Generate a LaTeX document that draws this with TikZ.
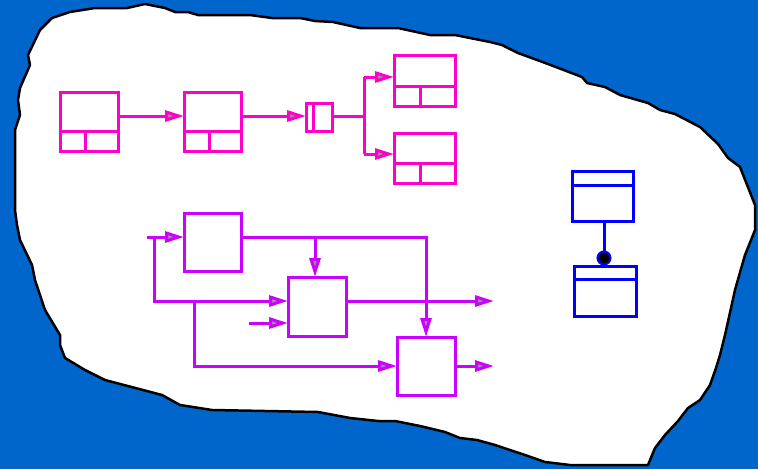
\documentclass[tikz,border=0pt]{standalone}
\usetikzlibrary{arrows.meta,calc}
\definecolor{bgblue}{RGB}{0,102,204}
\definecolor{pinkc}{RGB}{255,0,204}
\definecolor{purpc}{RGB}{204,0,255}
\definecolor{bluec}{RGB}{0,0,255}
\definecolor{tipgray}{RGB}{150,150,150}
\begin{document}
\begin{tikzpicture}[x=1pt,y=-1pt,
  boxp/.style={draw=pinkc,line width=3pt,inner sep=0pt,outer sep=0pt},
  boxq/.style={draw=purpc,line width=3pt,inner sep=0pt,outer sep=0pt},
  boxb/.style={draw=bluec,line width=3pt,inner sep=0pt,outer sep=0pt},
  pline/.style={draw=pinkc,line width=3pt},
  qline/.style={draw=purpc,line width=3pt},
  bline/.style={draw=bluec,line width=3pt},
  tipa/.style={-{Triangle[length=19pt,width=11pt,fill=tipgray]}},
  dotnode/.style={circle,draw=bluec,fill=black,line width=2pt,minimum size=13pt,inner sep=0pt,outer sep=0pt}]
\useasboundingbox (0,0) rectangle (758,469);
\fill[bgblue] (0,0) rectangle (758,469);
% blob
\draw[black,line width=2.5pt,fill=white,line join=round]
 (52,18)--(70,12)--(95,8)--(127,8)--(145,4)--(165,8)--(175,12)--(188,12)--(198,15)--(250,15)--(272,18)--(300,18)--(315,21)--(333,22)--(360,28)--(398,28)--(430,35)--(455,35)--(490,42)--(502,45)--(518,53)--(548,64)--(582,77)--(587,83)--(605,87)--(620,95)--(648,103)--(660,110)--(675,114)--(700,127)--(718,144)--(728,158)--(740,167)--(755,205)--(755,230)--(745,255)--(735,290)--(725,335)--(720,355)--(716,368)--(710,385)--(700,400)--(688,408)--(678,421)--(665,435)--(655,448)--(648,465)--(570,465)--(545,462)--(525,455)--(495,445)--(477,440)--(460,438)--(445,432)--(420,426)--(395,421)--(378,421)--(350,418)--(318,412)--(212,410)--(180,405)--(162,395)--(105,380)--(85,370)--(65,358)--(60,345)--(60,335)--(45,310)--(40,295)--(35,280)--(32,265)--(20,240)--(17,225)--(15,210)--(15,130)--(20,115)--(18,100)--(20,88)--(30,65)--(28,55)--(40,30)--cycle;
% pink row
\node[boxp,minimum width=58pt,minimum height=59pt] (A) at (89,121.5) {};
\node[boxp,minimum width=57pt,minimum height=59pt] (B) at (212.5,121.5) {};
\node[boxp,minimum width=26pt,minimum height=28pt] (C) at (319,117) {};
\node[boxp,minimum width=61pt,minimum height=51pt] (D) at (424.5,80.5) {};
\node[boxp,minimum width=61pt,minimum height=50pt] (E) at (424.5,158) {};
\foreach \n/\v in {A/25pt,B/25pt,D/26pt,E/26pt}{
  \draw[pline] ($(\n.south west)+(0,20pt)$) -- ($(\n.south east)+(0,20pt)$);
  \draw[pline] ($(\n.south west)+(\v,0)$) -- ($(\n.south west)+(\v,20pt)$);
}
\draw[pline] ($(C.north west)+(7pt,0)$) -- ($(C.south west)+(7pt,0)$);
\coordinate (row) at (0,116);
\draw[pline,tipa] (A.east |- row) -- (B.west |- row);
\draw[pline,tipa] (B.east |- row) -- (C.west |- row);
\coordinate (fork) at (364,116);
\coordinate (fD) at (364,77);
\coordinate (fE) at (364,154);
\draw[pline] (C.east |- row) -- (fork);
\draw[pline] (fD) -- (fE);
\draw[pline,tipa] (fD) -- (D.west |- fD);
\draw[pline,tipa] (fE) -- (E.west |- fE);
% purple
\node[boxq,minimum width=57pt,minimum height=58pt] (F) at (212.5,242) {};
\node[boxq,minimum width=58pt,minimum height=59pt] (G) at (317,306.5) {};
\node[boxq,minimum width=58pt,minimum height=58pt] (H) at (426,366) {};
\coordinate (in1) at (147,237);
\coordinate (j1) at (154,237);
\coordinate (j2) at (154,301);
\coordinate (j3) at (194,301);
\coordinate (j4) at (194,366);
\coordinate (in2) at (249,323);
\coordinate (t1) at (315,237);
\coordinate (t2) at (426,237);
\coordinate (out1) at (494,301);
\coordinate (out2) at (494,366);
\draw[qline,tipa] (in1) -- (F.west |- in1);
\draw[qline,tipa] (j1) -- (j2) -- (G.west |- j2);
\draw[qline,tipa] (j3) -- (j4) -- (H.west |- j4);
\draw[qline,tipa] (in2) -- (G.west |- in2);
\draw[qline,tipa] (F.east |- in1) -- (t2) -- (H.north -| t2);
\draw[qline,tipa] (t1) -- (G.north -| t1);
\draw[qline,tipa] (G.east |- j2) -- (out1);
\draw[qline,tipa] (H.east |- out2) -- (out2);
% blue
\node[boxb,minimum width=61pt,minimum height=50pt] (I) at (602.5,196) {};
\node[boxb,minimum width=62pt,minimum height=50pt] (J) at (605,291) {};
\draw[bline] ($(I.north west)+(0,-14pt)$) -- ($(I.north east)+(0,-14pt)$);
\draw[bline] ($(J.north west)+(0,-13pt)$) -- ($(J.north east)+(0,-13pt)$);
\coordinate (kx) at (604,0);
\node[dotnode] (K) at (604,258) {};
\draw[bline] (I.south -| kx) -- (K.north);
\end{tikzpicture}
\end{document}
